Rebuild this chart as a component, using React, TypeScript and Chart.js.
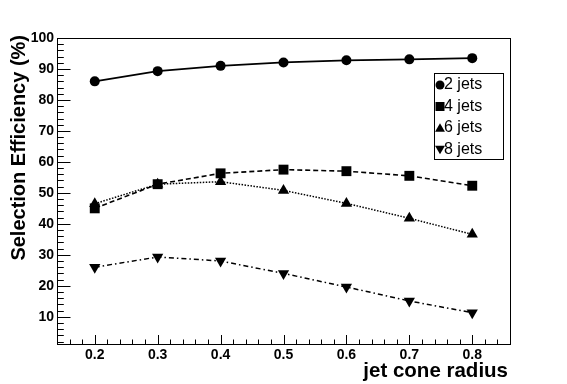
import React, { useEffect, useRef } from "react";
import { Chart, registerables } from "chart.js";

Chart.register(...registerables);

const radii = [0.2, 0.3, 0.4, 0.5, 0.6, 0.7, 0.8];
const jets2 = [86.0, 89.3, 91.0, 92.1, 92.8, 93.1, 93.5];
const jets4 = [45.0, 52.8, 56.3, 57.5, 57.0, 55.5, 52.3];
const jets6 = [46.5, 52.8, 53.6, 50.8, 46.6, 41.8, 36.6];
const jets8 = [26.0, 29.3, 28.0, 24.0, 19.6, 15.1, 11.3];

const seriesNames = ["2 jets", "4 jets", "6 jets", "8 jets"];
const xTickLabels = ["0.2", "0.3", "0.4", "0.5", "0.6", "0.7", "0.8"];
const yTickLabels = ["10", "20", "30", "40", "50", "60", "70", "80", "90", "100"];

const X_MIN = 0.14;
const X_MAX = 0.86;
const Y_MIN = 1.2;
const Y_MAX = 100;

const FONT = '"Liberation Sans", Arial, Helvetica, sans-serif';

function drawMarker(ctx: CanvasRenderingContext2D, style: string, x: number, y: number, s: number) {
  ctx.beginPath();
  if (style === "circle") {
    ctx.arc(x, y, s, 0, Math.PI * 2);
  } else if (style === "rect") {
    ctx.rect(x - s, y - s, 2 * s, 2 * s);
  } else if (style === "up") {
    ctx.moveTo(x, y - s * 1.05);
    ctx.lineTo(x + s * 1.1, y + s * 0.85);
    ctx.lineTo(x - s * 1.1, y + s * 0.85);
    ctx.closePath();
  } else {
    ctx.moveTo(x, y + s * 1.05);
    ctx.lineTo(x + s * 1.1, y - s * 0.85);
    ctx.lineTo(x - s * 1.1, y - s * 0.85);
    ctx.closePath();
  }
  ctx.fill();
}

const rootPlugin = {
  id: "rootFrame",
  afterDatasetsDraw(chart: any) {
    const ctx: CanvasRenderingContext2D = chart.ctx;
    const { left, right, top, bottom } = chart.chartArea;
    const xs = chart.scales.x;
    const ys = chart.scales.y;
    ctx.save();
    ctx.strokeStyle = "#000";
    ctx.lineWidth = 1;
    // frame
    ctx.strokeRect(Math.round(left) + 0.5, Math.round(top) + 0.5, Math.round(right - left), Math.round(bottom - top));
    // x ticks (inward)
    ctx.beginPath();
    for (let v = 0.16; v <= X_MAX + 1e-9; v += 0.02) {
      const r = Math.round(v * 100);
      const major = r % 10 === 0;
      const px = Math.round(xs.getPixelForValue(v)) + 0.5;
      ctx.moveTo(px, bottom);
      ctx.lineTo(px, bottom - (major ? 9 : 4.5));
    }
    // y ticks (inward)
    for (let v = 2; v <= Y_MAX + 1e-9; v += 2) {
      const major = v % 10 === 0;
      const py = Math.round(ys.getPixelForValue(v)) + 0.5;
      ctx.moveTo(left, py);
      ctx.lineTo(left + (major ? 13.5 : 6.8), py);
    }
    ctx.stroke();
    // tick labels
    ctx.fillStyle = "#000";
    ctx.font = `bold 14px ${FONT}`;
    ctx.textAlign = "center";
    ctx.textBaseline = "middle";
    xTickLabels.forEach((t) => {
      ctx.fillText(t, xs.getPixelForValue(parseFloat(t)), bottom + 11);
    });
    ctx.textAlign = "right";
    yTickLabels.forEach((t) => {
      ctx.fillText(t, left - 3, ys.getPixelForValue(parseFloat(t)));
    });
    // axis titles
    ctx.font = `bold 20.5px ${FONT}`;
    ctx.textAlign = "right";
    ctx.textBaseline = "middle";
    ctx.fillText("jet cone radius", right - 2, bottom + 27);
    ctx.save();
    ctx.font = `bold 20px ${FONT}`;
    ctx.translate(19, top - 3);
    ctx.rotate(-Math.PI / 2);
    ctx.textAlign = "right";
    ctx.fillText("Selection Efficiency (%)", 0, 0);
    ctx.restore();
    // legend
    const lx = 434, ly = 73, lw = 69, lh = 86;
    ctx.fillStyle = "#fff";
    ctx.fillRect(lx, ly, lw, lh);
    ctx.strokeRect(lx + 0.5, ly + 0.5, lw, lh);
    const styles = ["circle", "rect", "up", "down"];
    const sizes = [4.5, 4.5, 4.5, 4.5];
    ctx.font = `16px ${FONT}`;
    ctx.textAlign = "left";
    ctx.textBaseline = "middle";
    seriesNames.forEach((n, i) => {
      const cy = ly + 12 + i * 21.5;
      ctx.fillStyle = "#000";
      drawMarker(ctx, styles[i], lx + 6, cy, sizes[i]);
      ctx.fillText(n, lx + 10, cy);
    });
    ctx.restore();
  },
};

function toPoints(ys: number[]) {
  return radii.map((x, i) => ({ x, y: ys[i] }));
}

export default function App() {
  const ref = useRef<HTMLCanvasElement | null>(null);
  useEffect(() => {
    if (!ref.current) return;
    const chart = new Chart(ref.current, {
      type: "line",
      data: {
        datasets: [
          {
            label: seriesNames[0],
            data: toPoints(jets2),
            borderColor: "#000",
            backgroundColor: "#000",
            borderWidth: 1.8,
            pointStyle: "circle",
            pointRadius: 5,
            pointBorderWidth: 0,
            tension: 0,
          },
          {
            label: seriesNames[1],
            data: toPoints(jets4),
            borderColor: "#000",
            backgroundColor: "#000",
            borderWidth: 1.6,
            borderDash: [5, 3],
            pointStyle: "rect",
            pointRadius: 7,
            pointBorderWidth: 0,
            tension: 0,
          },
          {
            label: seriesNames[2],
            data: toPoints(jets6),
            borderColor: "#000",
            backgroundColor: "#000",
            borderWidth: 1.5,
            borderDash: [1.5, 1.5],
            pointStyle: "triangle",
            pointRadius: 6.5,
            pointBorderWidth: 0,
            tension: 0,
          },
          {
            label: seriesNames[3],
            data: toPoints(jets8),
            borderColor: "#000",
            backgroundColor: "#000",
            borderWidth: 1.5,
            borderDash: [5, 3, 1.5, 3],
            pointStyle: "triangle",
            pointRotation: 180,
            pointRadius: 6.5,
            pointBorderWidth: 0,
            tension: 0,
          },
        ],
      },
      options: {
        responsive: false,
        animation: false,
        layout: { padding: { left: 57, top: 38, right: 57, bottom: 40 } },
        plugins: { legend: { display: false }, tooltip: { enabled: false } },
        scales: {
          x: { type: "linear", min: X_MIN, max: X_MAX, display: false },
          y: { type: "linear", min: Y_MIN, max: Y_MAX, display: false },
        },
      },
      plugins: [rootPlugin],
    });
    return () => chart.destroy();
  }, []);
  return (
    <div style={{ position: "absolute", left: 0, top: 0, width: 567, height: 384, background: "#fff" }}>
      <canvas ref={ref} width={567} height={384} style={{ display: "block" }} />
    </div>
  );
}
